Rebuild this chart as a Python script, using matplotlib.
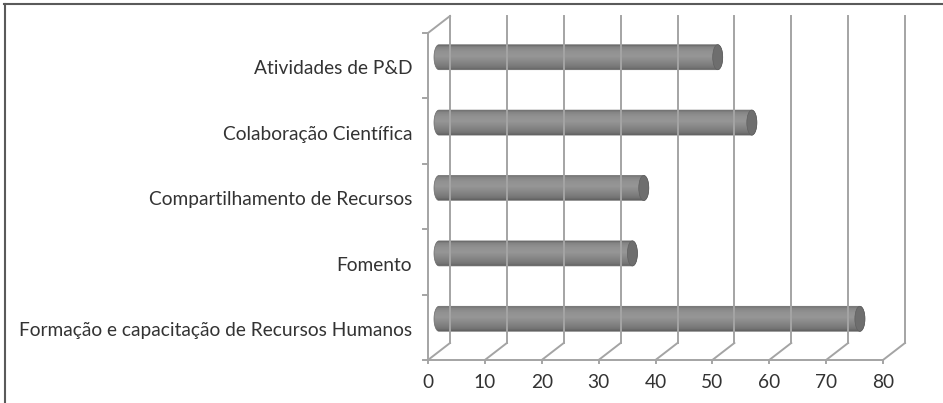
import matplotlib.pyplot as plt
import numpy as np
from matplotlib.lines import Line2D
from matplotlib.patches import Ellipse, Polygon

# categories listed bottom to top
categories = ["Formação e capacitação de Recursos Humanos",
              "Fomento",
              "Compartilhamento de Recursos",
              "Colaboração Científica",
              "Atividades de P&D"]
values = [74, 34, 36, 55, 49]
x_ticks = [0, 10, 20, 30, 40, 50, 60, 70, 80]

plt.rcParams['font.family'] = ['Lato', 'DejaVu Sans']

W, H = 943, 403
fig = plt.figure(figsize=(W / 100, H / 100), dpi=100)
ax = fig.add_axes([428 / W, 43 / H, 455 / W, 327 / H])
ax.axis('off')

# depth of the 3d box, converted from pixels to data units
px_x = 455 / 80
px_y = 327 / len(categories)
DX = 22 / px_x
DY = 17 / px_y

grid_c = '#a4a4a4'
lw = 1.4
ymax = len(categories)

# back wall gridlines and floor diagonals
for x in x_ticks:
    ax.plot([x + DX, x + DX], [DY, ymax + DY], color=grid_c, lw=lw, clip_on=False)
    ax.plot([x, x + DX], [0, DY], color=grid_c, lw=lw, clip_on=False)
    ax.plot([x, x], [0, -0.05], color=grid_c, lw=lw, clip_on=False)

# front floor edge, left wall edge and its top
ax.plot([0, 80], [0, 0], color=grid_c, lw=lw, clip_on=False)
ax.plot([0, 0], [0, ymax], color=grid_c, lw=lw, clip_on=False)
ax.plot([0, DX], [ymax, ymax + DY], color=grid_c, lw=lw, clip_on=False)
for k in range(len(categories) + 1):
    ax.plot([-0.85, 0], [k, k], color=grid_c, lw=lw, clip_on=False)

# cylinder bars: vertical gray gradient clipped to the cylinder outline
bar_h = 25 / px_y
cap_a = 5 / px_x
t = np.linspace(1, -1, 64)
shade = np.interp(t, [-1, -0.8, -0.4, 0.1, 0.5, 0.85, 1],
                  [0.38, 0.46, 0.52, 0.59, 0.57, 0.52, 0.42])
grad = shade[:, None]
ang = np.linspace(np.pi / 2, 3 * np.pi / 2, 40)

for i, v in enumerate(values):
    yc = i + 0.5 + DY / 2
    x0 = DX / 2
    left = np.column_stack([x0 + cap_a * np.cos(ang), yc + bar_h / 2 * np.sin(ang)])
    right = np.column_stack([x0 + v - cap_a * np.cos(ang), yc - bar_h / 2 * np.sin(ang)])
    outline = Polygon(np.vstack([left, right]), closed=True, facecolor='none',
                      edgecolor='#6a6a6a', lw=0.5)
    ax.add_patch(outline)
    img = ax.imshow(grad, cmap='gray', vmin=0, vmax=1, aspect='auto',
                    interpolation='bilinear',
                    extent=[x0 - cap_a, x0 + v + cap_a, yc - bar_h / 2, yc + bar_h / 2])
    img.set_clip_path(outline)
    ax.add_patch(Ellipse((x0 + v, yc), 2 * cap_a, bar_h, facecolor='#6e6e6e',
                         edgecolor='#606060', lw=0.5))

ax.set_xlim(0, 80)
ax.set_ylim(0, ymax)

# category and value labels
for i, name in enumerate(categories):
    ax.text(-2.8, i + 0.45, name, ha='right', va='center',
            fontsize=13.8, color='#333333', clip_on=False)
for x in x_ticks:
    ax.text(x, -0.34, str(x), ha='center', va='center',
            fontsize=13.8, color='#333333', clip_on=False)

# chart frame
frame_c = '#5a5a5a'
fig.add_artist(Line2D([4 / W, 1], [1 - 4 / H, 1 - 4 / H], color=frame_c, lw=1.5))
fig.add_artist(Line2D([4.5 / W, 4.5 / W], [0, 1 - 4 / H], color=frame_c, lw=1.5))

fig.savefig('out.png', dpi=100, facecolor='white')
